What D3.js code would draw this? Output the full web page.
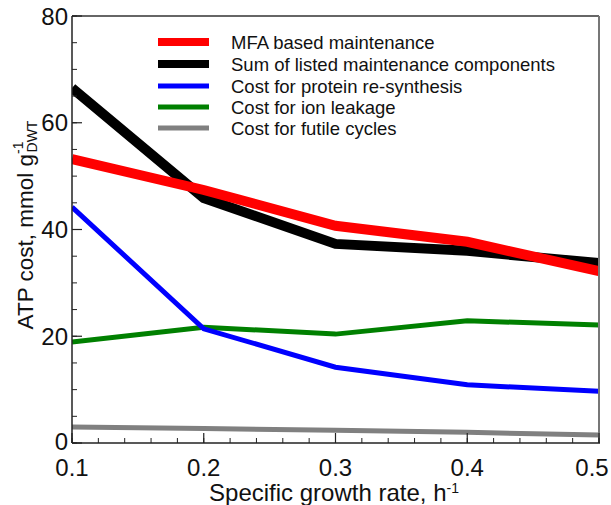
<!DOCTYPE html>
<html>
<head>
<meta charset="utf-8">
<script src="https://cdn.jsdelivr.net/npm/d3@7"></script>
<style>
  html, body { margin: 0; padding: 0; background: #fff; }
  svg { display: block; font-family: "Liberation Sans", Arial, sans-serif; }
</style>
</head>
<body>
<svg id="chart" width="611" height="505"></svg>
<script>
// Specific growth rate (h^-1)
const growthRates = [0.1, 0.2, 0.3, 0.4, 0.5];

// ATP cost series, mmol per g dry weight
const mfaMaintenance   = [53.2, 47.4, 40.7, 37.7, 32.2];
const sumOfComponents  = [66.5, 45.9, 37.3, 36.0, 33.7];
const proteinResynth   = [44.2, 21.4, 14.2, 10.9, 9.7];
const ionLeakage       = [18.9, 21.7, 20.4, 22.9, 22.1];
const futileCycles     = [3.0, 2.7, 2.4, 2.0, 1.5];

const seriesNames = [
  "MFA based maintenance",
  "Sum of listed maintenance components",
  "Cost for protein re-synthesis",
  "Cost for ion leakage",
  "Cost for futile cycles"
];

const xTicks = [0.1, 0.2, 0.3, 0.4, 0.5];
const yTicks = [0, 20, 40, 60, 80];

// styling per series (legend order)
const seriesStyle = [
  { color: "#ff0000", width: 10, legendWidth: 8 },
  { color: "#000000", width: 10, legendWidth: 8 },
  { color: "#0000ff", width: 5,  legendWidth: 5 },
  { color: "#008000", width: 5,  legendWidth: 5 },
  { color: "#808080", width: 5,  legendWidth: 5 }
];
const seriesValues = [mfaMaintenance, sumOfComponents, proteinResynth, ionLeakage, futileCycles];

const svg = d3.select("#chart");
const plotLeft = 72, plotRight = 599, plotTop = 16, plotBottom = 443;

const x = d3.scaleLinear().domain([0.1, 0.5]).range([plotLeft, plotRight]);
const y = d3.scaleLinear().domain([0, 80]).range([plotBottom, plotTop]);

svg.append("defs").append("clipPath").attr("id", "plot-clip")
  .append("rect")
  .attr("x", plotLeft).attr("y", plotTop)
  .attr("width", plotRight - plotLeft).attr("height", plotBottom - plotTop);

// lines: draw bottom-most first so red ends up over black, blue over green
const drawOrder = [4, 3, 2, 1, 0];
const lineGen = d3.line().x((d, i) => x(growthRates[i])).y(d => y(d));
const plot = svg.append("g").attr("clip-path", "url(#plot-clip)");
drawOrder.forEach(k => {
  plot.append("path")
    .datum(seriesValues[k])
    .attr("d", lineGen)
    .attr("fill", "none")
    .attr("stroke", seriesStyle[k].color)
    .attr("stroke-width", seriesStyle[k].width)
    .attr("stroke-linejoin", "miter")
    .attr("stroke-linecap", "butt");
});

// plot frame (top and right edges)
svg.append("line").attr("x1", plotLeft).attr("x2", plotRight).attr("y1", plotTop).attr("y2", plotTop)
  .attr("stroke", "#333").attr("stroke-width", 1.5);
svg.append("line").attr("x1", plotRight).attr("x2", plotRight).attr("y1", plotTop).attr("y2", plotBottom)
  .attr("stroke", "#777").attr("stroke-width", 2);

// x axis
const xMinor = d3.range(0.1, 0.5001, 0.02);
const xAxis = svg.append("g").attr("transform", `translate(0,${plotBottom})`);
xAxis.append("line").attr("x1", plotLeft).attr("x2", plotRight + 1).attr("stroke", "#222").attr("stroke-width", 1.5);
xAxis.selectAll(".minor").data(xMinor).join("line").attr("class", "minor")
  .attr("x1", d => x(d)).attr("x2", d => x(d)).attr("y1", 0).attr("y2", -5)
  .attr("stroke", "#222").attr("stroke-width", 1);
xAxis.selectAll(".major").data(xTicks).join("line").attr("class", "major")
  .attr("x1", d => x(d)).attr("x2", d => x(d)).attr("y1", 0).attr("y2", -10)
  .attr("stroke", "#222").attr("stroke-width", 1.2);
xAxis.selectAll("text").data(xTicks).join("text")
  .attr("x", d => Math.min(x(d), 592)).attr("y", 32.5)
  .attr("text-anchor", "middle").attr("font-size", 24).attr("fill", "#111")
  .text(d => d3.format(".1f")(d));

// y axis
const yMinor = d3.range(0, 80.001, 5);
const yAxis = svg.append("g").attr("transform", `translate(${plotLeft},0)`);
yAxis.append("line").attr("y1", plotTop).attr("y2", plotBottom).attr("stroke", "#222").attr("stroke-width", 1.5);
yAxis.selectAll(".minor").data(yMinor).join("line").attr("class", "minor")
  .attr("y1", d => y(d)).attr("y2", d => y(d)).attr("x1", 0).attr("x2", 5)
  .attr("stroke", "#222").attr("stroke-width", 1);
yAxis.selectAll(".major").data(yTicks).join("line").attr("class", "major")
  .attr("y1", d => y(d)).attr("y2", d => y(d)).attr("x1", 0).attr("x2", 10)
  .attr("stroke", "#222").attr("stroke-width", 1.2);
yAxis.selectAll("text").data(yTicks).join("text")
  .attr("x", -4).attr("y", d => y(d) + (d === 0 ? 7 : 8.5))
  .attr("text-anchor", "end").attr("font-size", 24).attr("fill", "#111")
  .text(d => d);

// axis titles
const xTitle = svg.append("text")
  .attr("x", 334).attr("y", 501)
  .attr("text-anchor", "middle").attr("font-size", 24).attr("fill", "#111");
xTitle.append("tspan").text("Specific growth rate, h");
xTitle.append("tspan").attr("font-size", 14).attr("dy", -8).text("-1");

const yTitle = svg.append("text")
  .attr("transform", "translate(33,225) rotate(-90)")
  .attr("text-anchor", "middle").attr("font-size", 22.5).attr("fill", "#111");
yTitle.append("tspan").text("ATP cost, mmol g");
yTitle.append("tspan").attr("font-size", 14).attr("dy", -10).text("-1");
yTitle.append("tspan").attr("font-size", 14).attr("dx", -11).attr("dy", 14).text("DWT");

// legend
const legend = svg.append("g");
const legendY = [42, 64, 86, 107, 128];
seriesNames.forEach((name, i) => {
  legend.append("line")
    .attr("x1", 158).attr("x2", 209)
    .attr("y1", legendY[i]).attr("y2", legendY[i])
    .attr("stroke", seriesStyle[i].color)
    .attr("stroke-width", seriesStyle[i].legendWidth);
  legend.append("text")
    .attr("x", 231).attr("y", legendY[i] + 6.5)
    .attr("font-size", 18.5).attr("fill", "#111")
    .text(name);
});
</script>
</body>
</html>
